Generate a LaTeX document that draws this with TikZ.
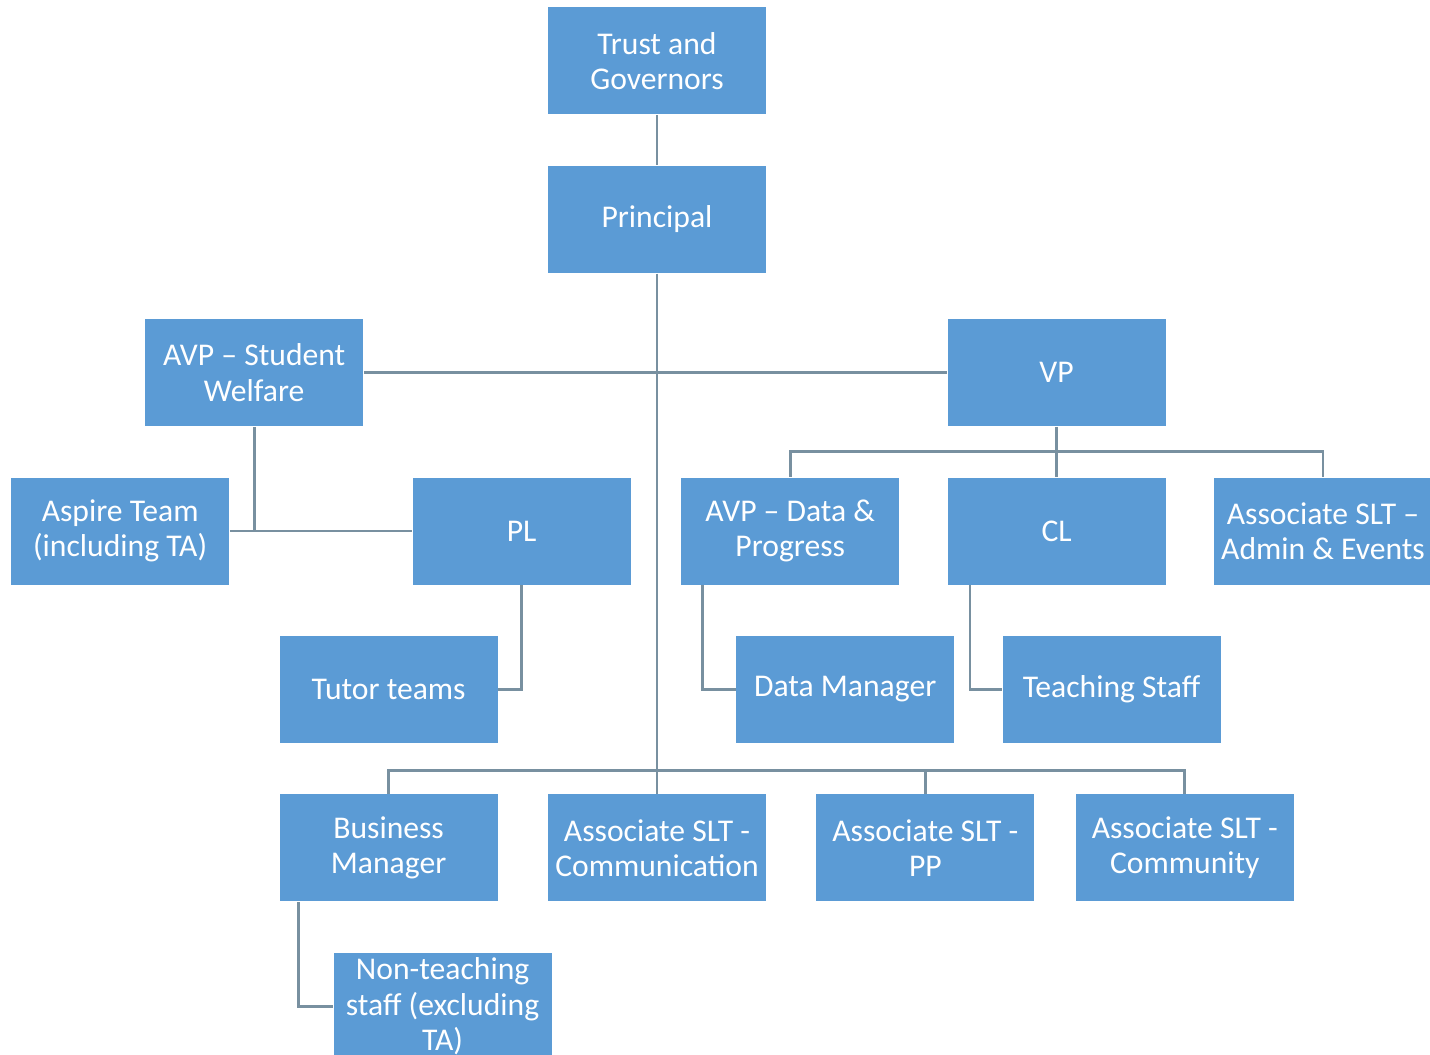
\documentclass[tikz,border=0pt]{standalone}
\usepackage{fontspec}
\setmainfont{Carlito}
\usetikzlibrary{positioning}
\definecolor{boxblue}{HTML}{5B9BD5}
\definecolor{linkgrey}{HTML}{7890A0}
\begin{document}
\begin{tikzpicture}[node distance=0.5cm,
  role node/.style={rectangle, fill=boxblue, text=white, minimum width=2.18cm, minimum height=1.07cm, inner sep=0pt, align=center, font=\fontsize{9}{10}\selectfont},
  link/.style={draw=linkgrey, line width=0.8pt}]
        \fill[white] (0,0) rectangle (14.30,-10.54);
        \useasboundingbox (0,0) rectangle (14.30,-10.54);

          \node[role node] (1) at (6.57,-0.61) {Trust and\\Governors};
          \node[role node] (2) [below=of 1] {Principal};
          \node[role node] (14) [below=5.2cm of 2] {Associate SLT -\\Communication};
          \node[role node] (13) [left=0.49cm of 14] {Business\\Manager};
          \node[role node] (15) [right=0.49cm of 14] {Associate SLT -\\PP};
          \node[role node] (16) [right=0.4cm of 15] {Associate SLT -\\Community};
          \node[role node] (17) [below=of 13, xshift=0.54cm] {Non-teaching\\staff (excluding\\TA)};
          \node[role node] (10) [above=of 13] {Tutor teams};
          \node[role node] (6) [above=of 10, xshift=1.33cm] {PL};
          \node[role node] (5) [left=1.82cm of 6] {Aspire Team\\(including TA)};
          \node[role node] (3) [above=of 5, xshift=1.34cm] {AVP -- Student\\Welfare};
          \node[role node] (4) [right=5.83cm of 3] {VP};
          \node[role node] (8) [below=of 4] {CL};
          \node[role node] (7) [left=0.47cm of 8] {AVP -- Data \&\\Progress};
          \node[role node] (9) [right=0.47cm of 8] {Associate SLT --\\Admin \& Events};
          \node[role node] (11) [below=of 7, xshift=0.55cm] {Data Manager};
          \node[role node] (12) [below=of 8, xshift=0.55cm] {Teaching Staff};

          \path (4.south) -- (8.north) coordinate[midway] (vbus);
          \coordinate (bbus) at ([yshift=0.23cm]14.north);

          \path[link]
            (1) edge (2)
            (2) edge (14)
            (3) edge (4)
            (4) edge (8)
            (5) edge (6);
          \draw[link] (3) |- (5);
          \draw[link] (7) |- (vbus) -| (9);
          \draw[link] (6) |- (10);
          \draw[link] ([xshift=0.22cm]7.south west) |- (11);
          \draw[link] ([xshift=0.23cm]8.south west) |- (12);
          \draw[link] (13) |- (bbus) -| (16);
          \draw[link] (15) -- (15 |- bbus);
          \draw[link] ([xshift=0.2cm]13.south west) |- (17);

\end{tikzpicture}
\end{document}
